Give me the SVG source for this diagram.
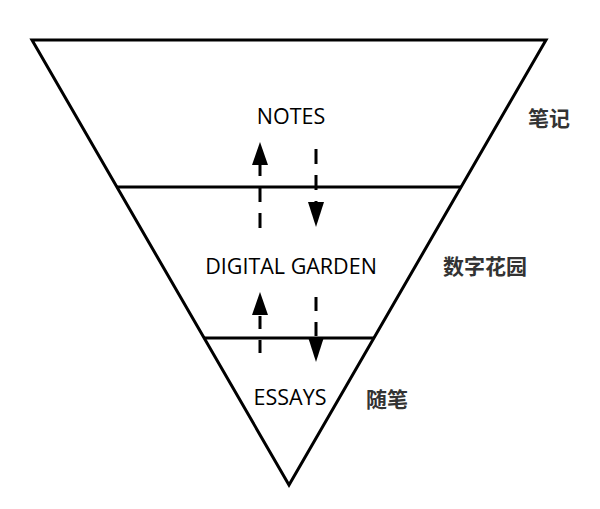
<svg xmlns="http://www.w3.org/2000/svg" width="600" height="509" viewBox="0 0 600 509">
<style>
.ln{fill:none;stroke:#000;stroke-width:3;stroke-linejoin:miter}
.dash{stroke:#000;stroke-width:3;fill:none}
.en{font-family:"Open Sans","Noto Sans",sans-serif;font-size:21.5px;fill:#000;text-anchor:middle}
.zh{font-family:"Noto Sans CJK SC",sans-serif;font-size:21px;font-weight:bold;fill:#333}
.head{fill:#000}
</style>
<g id="funnel">
<polygon class="ln" points="32,40 546,40 289,485"/>
<line class="ln" x1="117" y1="187" x2="461" y2="187"/>
<line class="ln" x1="204" y1="338" x2="374" y2="338"/>
</g>
<g id="notes"><text class="en" x="291" y="124">NOTES</text><text class="zh" x="528" y="126">笔记</text></g>
<g id="garden"><text class="en" x="291" y="274">DIGITAL GARDEN</text><text class="zh" x="443" y="274">数字花园</text></g>
<g id="essays"><text class="en" x="290" y="405">ESSAYS</text><text class="zh" x="366" y="407">随笔</text></g>
<g id="connectors">
<line class="dash" x1="260" y1="228" x2="260" y2="164" stroke-dasharray="15 11"/>
<polygon class="head" points="260,142 252,165 268,165"/>
<line class="dash" x1="316" y1="149" x2="316" y2="204" stroke-dasharray="15 11"/>
<polygon class="head" points="316,227 308,202 324,202"/>
<line class="dash" x1="260" y1="353" x2="260" y2="314" stroke-dasharray="13 11"/>
<polygon class="head" points="260,292 252,315 268,315"/>
<line class="dash" x1="316" y1="297" x2="316" y2="340" stroke-dasharray="14 11"/>
<polygon class="head" points="316,362 308,337 324,337"/>
</g>
</svg>
